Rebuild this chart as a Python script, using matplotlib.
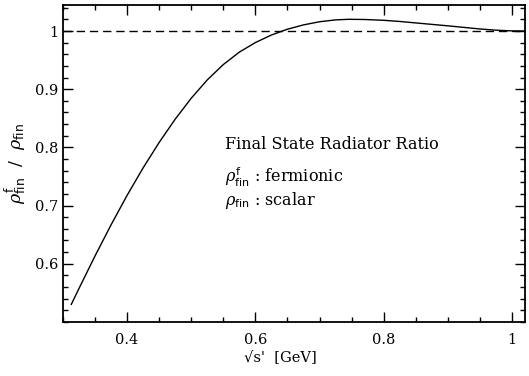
import numpy as np
import matplotlib.pyplot as plt
from matplotlib.ticker import MultipleLocator

# ratio of fermionic to scalar final state radiator vs sqrt(s')
sqrt_s = [0.313, 0.325, 0.350, 0.375, 0.400, 0.425, 0.450, 0.475, 0.500, 0.525,
          0.550, 0.575, 0.600, 0.625, 0.650, 0.675, 0.700, 0.725, 0.745, 0.770,
          0.800, 0.825, 0.850, 0.875, 0.900, 0.925, 0.950, 0.975, 1.000, 1.020]
ratio = [0.5300, 0.5574, 0.6133, 0.6668, 0.7175, 0.7648, 0.8085, 0.8485, 0.8845, 0.9160,
         0.9424, 0.9638, 0.9802, 0.9932, 1.0032, 1.0106, 1.0160, 1.0192, 1.0202, 1.0199,
         1.0185, 1.0165, 1.0140, 1.0115, 1.0090, 1.0063, 1.0036, 1.0015, 1.0003, 1.0000]

plt.rcParams['font.family'] = 'DejaVu Serif'
plt.rcParams['mathtext.fontset'] = 'dejavuserif'

fig = plt.figure(figsize=(5.29, 3.76), dpi=100)
ax = fig.add_axes([0.119, 0.144, 0.873, 0.843])

ax.plot(sqrt_s, ratio, color='black', lw=1.0)
ax.axhline(1.0, color='black', lw=1.0, ls=(0, (6, 3.5)))

ax.set_xlim(0.30, 1.02)
ax.set_ylim(0.50, 1.045)
ax.xaxis.set_minor_locator(MultipleLocator(0.05))
ax.yaxis.set_minor_locator(MultipleLocator(0.02))
ax.set_xticks([0.4, 0.6, 0.8, 1.0], ['0.4', '0.6', '0.8', '1'])
ax.set_yticks([0.6, 0.7, 0.8, 0.9, 1.0], ['0.6', '0.7', '0.8', '0.9', '1'])
ax.tick_params(which='both', direction='in', top=True, right=True, labelsize=10.5)
ax.tick_params(which='major', length=7, width=1)
ax.tick_params(which='minor', length=3.5, width=1)
ax.tick_params(axis='x', which='major', pad=8)
for s in ax.spines.values():
    s.set_linewidth(1.3)

ax.set_xlabel("√s'  [GeV]", fontsize=10.5)
ax.xaxis.set_label_coords(0.47, -0.09)
ax.set_ylabel(r'$\rho^{\mathsf{f}}_{\mathsf{fin}}$  /  $\rho_{\mathsf{fin}}$', fontsize=12.5)

ax.text(0.5525, 0.805, 'Final State Radiator Ratio', fontsize=11.5, va='center')
ax.text(0.5525, 0.749, r'$\rho^{\mathsf{f}}_{\mathsf{fin}}$ : fermionic', fontsize=11.5, va='center')
ax.text(0.5525, 0.708, r'$\rho_{\mathsf{fin}}$ : scalar', fontsize=11.5, va='center')

fig.savefig('out.png', dpi=100)
